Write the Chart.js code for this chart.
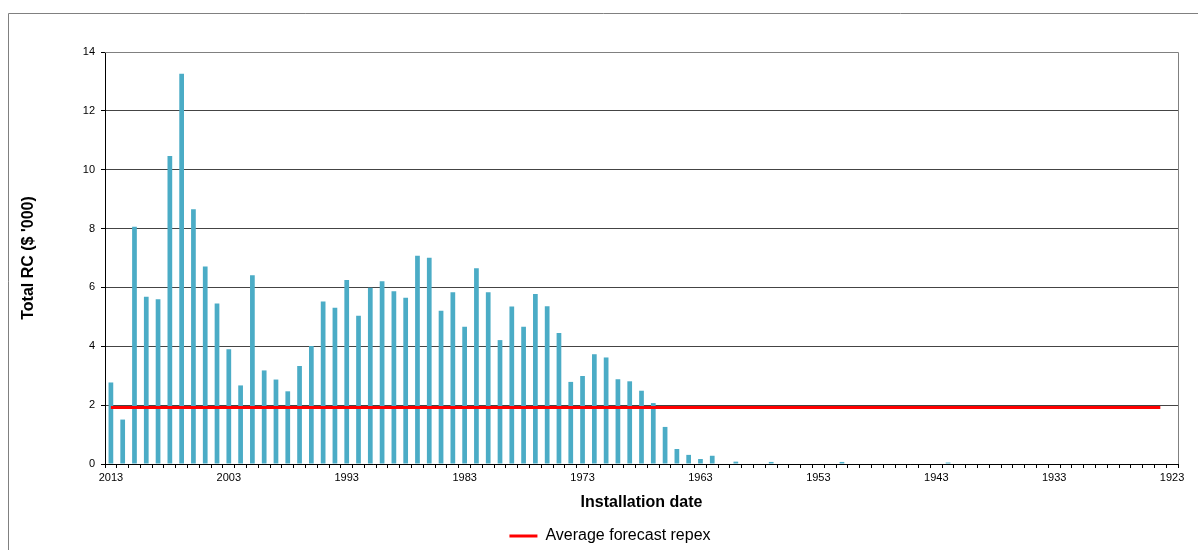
<!DOCTYPE html>
<html>
<head>
<meta charset="utf-8">
<script src="https://cdn.jsdelivr.net/npm/chart.js@4"></script>
<style>
  html, body { margin: 0; padding: 0; background: #fff; }
  #wrap { width: 1198px; height: 550px; }
</style>
</head>
<body>
<div id="wrap"><canvas id="chart" width="1198" height="550"></canvas></div>
<script>
// installation years, newest first (as on the axis)
const years = [
  2013, 2012, 2011, 2010, 2009, 2008, 2007, 2006, 2005, 2004,
  2003, 2002, 2001, 2000, 1999, 1998, 1997, 1996, 1995, 1994,
  1993, 1992, 1991, 1990, 1989, 1988, 1987, 1986, 1985, 1984,
  1983, 1982, 1981, 1980, 1979, 1978, 1977, 1976, 1975, 1974,
  1973, 1972, 1971, 1970, 1969, 1968, 1967, 1966, 1965, 1964,
  1963, 1962, 1961, 1960, 1959, 1958, 1957, 1956, 1955, 1954,
  1953, 1952, 1951, 1950, 1949, 1948, 1947, 1946, 1945, 1944,
  1943, 1942, 1941, 1940, 1939, 1938, 1937, 1936, 1935, 1934,
  1933, 1932, 1931, 1930, 1929, 1928, 1927, 1926, 1925, 1924,
  1923
];

// total replacement cost per year ($ '000)
const totalRC = [
  2.77, 1.51, 8.06, 5.68, 5.60, 10.47, 13.26, 8.66, 6.71, 5.45,
  3.90, 2.67, 6.41, 3.18, 2.87, 2.47, 3.33, 4.01, 5.52, 5.31,
  6.25, 5.04, 5.99, 6.21, 5.87, 5.65, 7.08, 7.01, 5.21, 5.84,
  4.66, 6.65, 5.84, 4.21, 5.35, 4.66, 5.78, 5.36, 4.45, 2.79,
  2.99, 3.73, 3.62, 2.88, 2.81, 2.49, 2.07, 1.26, 0.51, 0.31,
  0.17, 0.28, 0, 0.08, 0, 0, 0.07, 0, 0, 0,
  0, 0, 0.07, 0, 0, 0, 0, 0, 0, 0,
  0, 0.05, 0, 0, 0, 0, 0, 0, 0, 0,
  0, 0, 0, 0, 0, 0, 0, 0, 0, 0,
  0
];

// average forecast repex, drawn from 2013 through to 1924
const avgForecast = 1.92;
const avgLastYear = 1924;

const xTickLabels = ['2013', '2003', '1993', '1983', '1973', '1963', '1953', '1943', '1933', '1923'];
const yTicks = [0, 2, 4, 6, 8, 10, 12, 14];

Chart.defaults.font.family = '"Liberation Sans", Arial, sans-serif';
Chart.defaults.color = '#000';

const frame = {
  id: 'frame',
  afterLayout(chart) {
    // legend sits a little right of the canvas centre in the original
    chart.legend.left += 21;
    chart.legend.right += 21;
  },
  afterDraw(chart) {
    const c = chart.ctx;
    const a = chart.chartArea;
    c.save();
    c.strokeStyle = '#808080';
    c.lineWidth = 1;
    // outer chart border
    c.beginPath();
    c.moveTo(8.5, 550);
    c.lineTo(8.5, 13.5);
    c.lineTo(1198, 13.5);
    c.stroke();
    // plot area top / right
    const r = Math.round(a.right) + 0.5;
    const t = Math.round(a.top) + 0.5;
    c.beginPath();
    c.moveTo(Math.round(a.left), t);
    c.lineTo(r, t);
    c.lineTo(r, Math.round(a.bottom));
    c.stroke();
    c.restore();
  }
};

new Chart(document.getElementById('chart'), {
  type: 'bar',
  data: {
    labels: years.map(String),
    datasets: [
      {
        type: 'bar',
        label: 'Total RC',
        data: totalRC,
        backgroundColor: '#4BACC6',
        borderWidth: 0,
        barPercentage: 0.4,
        categoryPercentage: 1,
        order: 2
      },
      {
        type: 'line',
        label: 'Average forecast repex',
        data: years.map(y => (y >= avgLastYear ? avgForecast : null)),
        borderColor: '#FF0000',
        backgroundColor: '#FF0000',
        borderWidth: 3,
        pointRadius: 0,
        pointStyle: 'line',
        spanGaps: false,
        order: 1
      }
    ]
  },
  options: {
    responsive: false,
    animation: false,
    layout: { padding: { top: 52, right: 20, left: 0, bottom: -4 } },
    scales: {
      x: {
        offset: true,
        afterFit(scale) { scale.height = 58; },
        grid: {
          offset: true,
          drawOnChartArea: false,
          tickLength: 4,
          color: '#000'
        },
        border: { color: '#000', width: 1 },
        ticks: {
          autoSkip: false,
          maxRotation: 0,
          padding: 3,
          font: { size: 11 },
          callback(value) {
            const lbl = this.getLabelForValue(value);
            return xTickLabels.includes(lbl) ? lbl : '';
          }
        },
        title: {
          display: true,
          text: 'Installation date',
          font: { size: 16, weight: 'bold' },
          padding: { top: 0, bottom: 10 }
        }
      },
      y: {
        min: 0,
        max: 14,
        afterFit(scale) { scale.width = 105; },
        afterBuildTicks(scale) { scale.ticks = yTicks.map(v => ({ value: v })); },
        grid: {
          tickLength: 4,
          color: ctx => (ctx.tick && ctx.tick.value === 14 ? '#808080' : '#444'),
          borderDash: [3, 2],
          tickColor: '#000',
          tickBorderDash: []
        },
        border: { color: '#000', width: 1 },
        ticks: {
          padding: 6,
          font: { size: 11 }
        },
        title: {
          display: true,
          text: "Total RC ($ '000)",
          font: { size: 16, weight: 'bold' },
          padding: { top: 19, bottom: 0 }
        }
      }
    },
    plugins: {
      legend: {
        position: 'bottom',
        labels: {
          filter: item => item.datasetIndex === 1,
          usePointStyle: true,
          pointStyle: 'line',
          pointStyleWidth: 28,
          font: { size: 16 },
          padding: 6
        }
      },
      tooltip: { enabled: false }
    }
  },
  plugins: [frame]
});
</script>
</body>
</html>
